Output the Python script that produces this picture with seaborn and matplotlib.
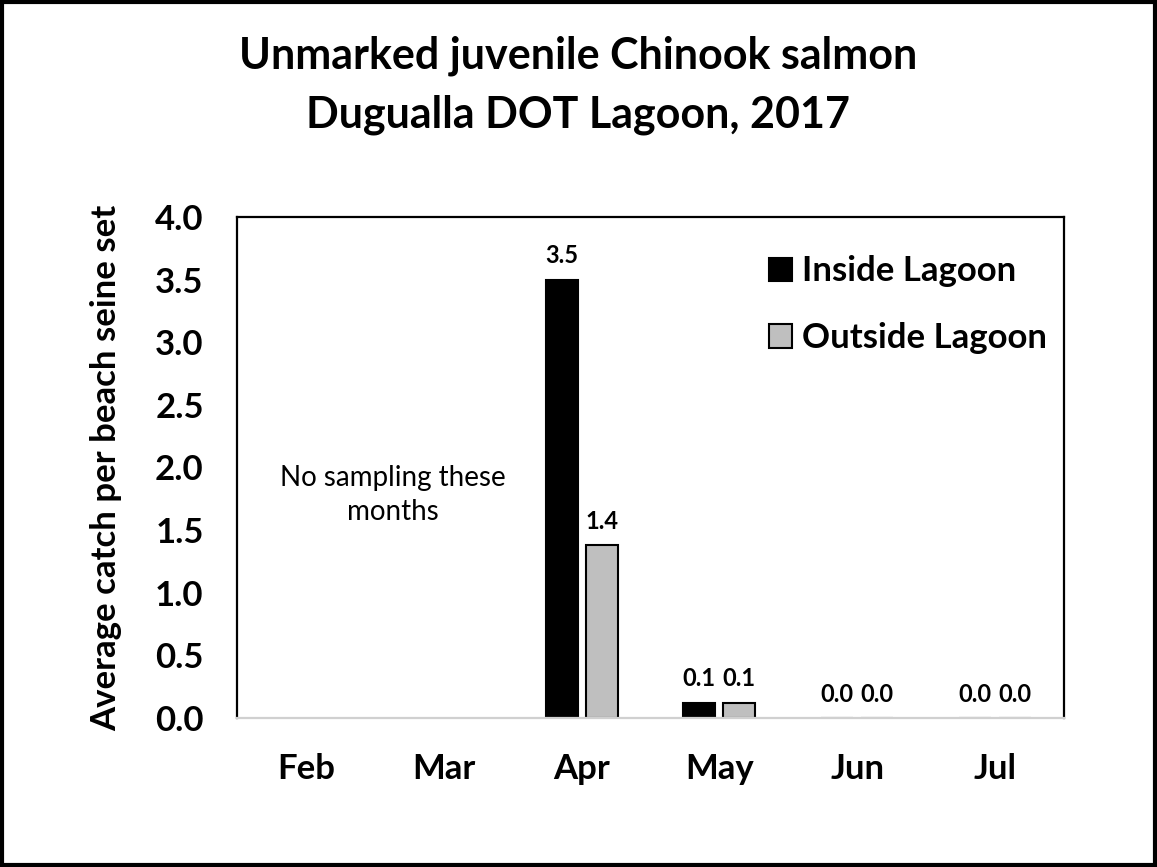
import matplotlib
matplotlib.use("Agg")
import matplotlib.pyplot as plt
import seaborn as sns
import pandas as pd
import numpy as np
from matplotlib.patches import Rectangle

months = ["Feb", "Mar", "Apr", "May", "Jun", "Jul"]
inside = [np.nan, np.nan, 3.5, 0.12, 0.0, 0.0]
outside = [np.nan, np.nan, 1.38, 0.12, 0.0, 0.0]
series = ["Inside Lagoon", "Outside Lagoon"]
colors = ["#000000", "#bfbfbf"]
yticks = [0.0, 0.5, 1.0, 1.5, 2.0, 2.5, 3.0, 3.5, 4.0]

df = pd.DataFrame({
    "Month": months * 2,
    "Value": inside + outside,
    "Series": [series[0]] * len(months) + [series[1]] * len(months),
})
df = df.dropna()

sns.set_theme(style="white")
plt.rcParams["font.family"] = ["Lato", "DejaVu Sans"]
for k in ["text.color", "axes.labelcolor", "xtick.color", "ytick.color"]:
    plt.rcParams[k] = "black"

fig = plt.figure(figsize=(11.57, 8.67), dpi=100)
ax = fig.add_axes([237 / 1157, 1 - 718 / 867, (1064 - 237) / 1157, (718 - 217) / 867])

sns.barplot(data=df, x="Month", y="Value", hue="Series", order=months,
            hue_order=series, palette=colors, width=0.58, gap=0.2,
            edgecolor="black", linewidth=1.5, ax=ax, legend=True)

for c in ax.containers:
    ax.bar_label(c, fmt="%.1f", padding=9, fontsize=17, fontweight="bold", color="black")

ax.set_ylim(0, 4.0)
ax.set_xlim(-0.5, 5.5)
ax.set_yticks(yticks)
ax.set_yticklabels([f"{t:.1f}" for t in yticks], fontsize=25, fontweight="bold")
ax.set_xticks(range(len(months)))
ax.set_xticklabels(months, fontsize=25, fontweight="bold")
ax.tick_params(axis="x", pad=25, length=0, colors="black")
ax.tick_params(axis="y", pad=24, length=0, colors="black")
ax.set_xlabel("")
ax.set_ylabel("Average catch per beach seine set", fontsize=25, fontweight="bold",
              labelpad=24, color="black")

for side in ["left", "top", "right"]:
    ax.spines[side].set_color("black")
    ax.spines[side].set_linewidth(1.6)
ax.spines["bottom"].set_color("#d0d0d0")
ax.spines["bottom"].set_linewidth(1.6)

handles, labels = ax.get_legend_handles_labels()
leg = ax.legend(handles, labels, loc="upper left", bbox_to_anchor=(0.627, 0.951),
                frameon=False, fontsize=25, handlelength=0.66, handleheight=0.66,
                handletextpad=0.29, labelspacing=1.0, borderaxespad=0)
for h in leg.legend_handles:
    h.set_edgecolor("black")
    h.set_linewidth(1.5)
for t in leg.get_texts():
    t.set_fontweight("bold")
    t.set_color("black")

ax.text(0.63, 1.78, "No sampling these\nmonths", ha="center", va="center",
        fontsize=20, linespacing=1.4, color="black")

fig.text(0.5, 1 - 85 / 867, "Unmarked juvenile Chinook salmon\nDugualla DOT Lagoon, 2017",
         ha="center", va="center", fontsize=31, fontweight="bold", linespacing=1.55,
         color="black")

fig.patches.append(Rectangle((0.0015, 0.002), 0.997, 0.996, transform=fig.transFigure,
                             fill=False, edgecolor="black", linewidth=3))

fig.savefig("out.png", dpi=100)
